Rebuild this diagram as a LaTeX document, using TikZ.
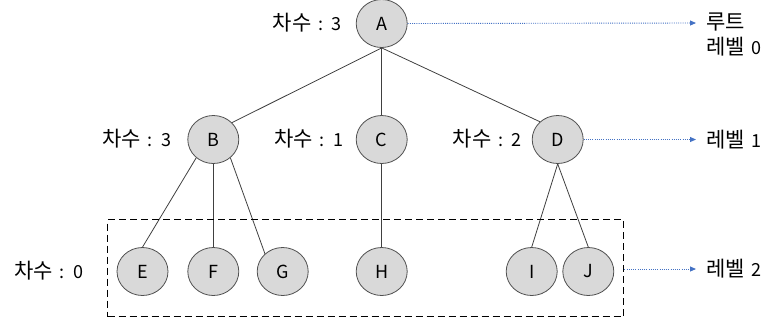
\documentclass[tikz,border=0pt]{standalone}
\usepackage{fontspec}
\setmainfont{Noto Sans CJK KR}
\usetikzlibrary{arrows.meta,shapes.geometric}
\definecolor{nodefill}{HTML}{D9D9D9}
\definecolor{nodeline}{HTML}{505050}
\definecolor{edgecol}{HTML}{404040}
\definecolor{arrowblue}{HTML}{4472C4}
\newcommand\ko[1]{{\fontsize{21}{25}\selectfont #1}}
\newcommand\labfont{\fontsize{18}{25}\selectfont\spaceskip 7pt\relax}
\begin{document}
\begin{tikzpicture}[x=1pt,y=-1pt,
  every node/.style={font={\labfont}},
  tnode/.style={ellipse,draw=nodeline,fill=nodefill,line width=0.8pt,minimum width=51pt,minimum height=48pt,inner sep=0pt},
  deg/.style={anchor=east,inner sep=0pt},
  lvl/.style={anchor=west,inner sep=0pt,align=left},
  edge/.style={draw=edgecol,line width=0.8pt},
  lvlarrow/.style={draw=arrowblue,line width=0.9pt,dash pattern=on 1pt off 1.2pt,-{Triangle[length=6pt,width=5pt]}},
  levelbox/.style={draw=black,line width=1.4pt,dash pattern=on 7pt off 4pt}
]
\useasboundingbox (0,0) rectangle (773,325);
% nodes
\node[tnode] (A) at (381.7,23.5) {A};
\node[tnode] (B) at (213.3,139.5) {B};
\node[tnode] (C) at (381.7,139.5) {C};
\node[tnode] (D) at (557.7,139.5) {D};
\node[tnode] (E) at (142.5,271.5) {E};
\node[tnode] (F) at (213.3,271.5) {F};
\node[tnode] (G) at (282.7,271.5) {G};
\node[tnode] (H) at (381.7,271.5) {H};
\node[tnode] (I) at (531.7,271.5) {I};
\node[tnode] (J) at (588.3,271.5) {J};
% degree labels
\node[deg] (dA) at (342,23) {\ko{차수} : 3};
\node[deg] (dB) at (171.5,139) {\ko{차수} : 3};
\node[deg] (dC) at (343.5,139) {\ko{차수} : 1};
\node[deg] (dD) at (522,139) {\ko{차수} : 2};
\node[deg] (dE) at (83.5,271) {\ko{차수} : 0};
% edges
\draw[edge] (A.south) -- (B.42);
\draw[edge] (A.south) -- (C.north);
\draw[edge] (A.south) -- (D.135);
\draw[edge] (B.227) -- (E.north);
\draw[edge] (B.south) -- (F.north);
\draw[edge] (B.313) -- (G.135);
\draw[edge] (C.south) -- (H.north);
\draw[edge] (D.south) -- (I.north);
\draw[edge] (D.south) -- (J.north);
% dashed level box
\node[levelbox,draw,inner sep=0pt,minimum width=516pt,minimum height=97pt,anchor=north west] (box) at (107,219) {};
% level arrows and labels
\coordinate (t0) at (696,23);
\coordinate (t1) at (696,139.5);
\coordinate (t2) at (696,269);
\draw[lvlarrow] (A.east) -- (t0);
\draw[lvlarrow] (D.east) -- (t1);
\draw[lvlarrow] (box.east |- t2) -- (t2);
\node[lvl] (l0) at (706,34.5) {\ko{루트}\\\ko{레벨} 0};
\node[lvl] (l1) at (706,139.5) {\ko{레벨} 1};
\node[lvl] (l2) at (706,269) {\ko{레벨} 2};
\end{tikzpicture}
\end{document}
